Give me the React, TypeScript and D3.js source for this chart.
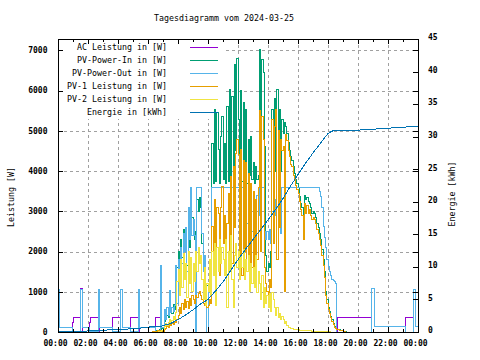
import React from "react";
import * as d3 from "d3";

const W = 480;
const H = 360;
const plot = {left: 58, right: 418, top: 39, bottom: 332};

const title = "Tagesdiagramm vom 2024-03-25";
const xTickLabels = ["00:00", "02:00", "04:00", "06:00", "08:00", "10:00", "12:00",
    "14:00", "16:00", "18:00", "20:00", "22:00", "00:00"];
const yTicks = [0, 1000, 2000, 3000, 4000, 5000, 6000, 7000];
const y2Ticks = [0, 5, 10, 15, 20, 25, 30, 35, 40, 45];

const seriesNames = ["AC Leistung in [W]", "PV-Power-In in [W]", "PV-Power-Out in [W]",
    "PV-1 Leistung in [W]", "PV-2 Leistung in [W]", "Energie in [kWh]"];
const seriesColors = ["#9400d3", "#009e73", "#56b4e9", "#e69f00", "#f0e442", "#0072b2"];

// night / twilight readings as [hour, value]
const acAm = [[0, 0], [0.98, 240], [1.02, 365], [1.53, 1090], [1.6, 0], [2.13, 240], [2.17, 365],
    [2.69, 700], [2.76, 0], [3.62, 240], [3.66, 365], [4.18, 0], [4.8, 240], [4.84, 365],
    [5.35, 700], [5.42, 0], [6.47, 240], [6.51, 365], [6.91, 0]];
const acPm = [[18.55, 0], [18.6, 330], [18.64, 365], [20.93, 0], [23.15, 365], [23.69, 0], [24, 0]];

const pvOutAm = [[0, 1060], [0.1, 117], [0.98, 10], [1.53, 1060], [1.62, 117], [2.13, 10],
    [2.69, 1060], [2.78, 117], [3.62, 10], [4.18, 1060], [4.27, 117], [4.8, 10], [5.35, 1060],
    [5.44, 117], [6.47, 10], [6.82, 1650], [6.93, 117]];
const pvOutPm = [[18.55, 0], [20.93, 1087], [21.07, 140], [23.15, 0], [23.69, 1060], [23.8, 140], [24, 140]];

const pvInAm = [[6.2, 0], [6.5, 30], [6.75, 60], [6.9, 90]];
const pvInPm = [[18.58, 70], [18.8, 40], [19.0, 20], [19.2, 0]];
const pv1Am = [[6.0, 0], [6.3, 10], [6.6, 25], [6.8, 15]];
const pv1Pm = [[18.58, 60], [18.75, 40], [19.0, 20], [19.15, 0]];
const pv2Am = [[6.5, 0], [6.7, 20], [6.9, 40]];
const pv2Pm = [[18.58, 0]];

// daytime readings, every 5 minutes from 07:00 to 18:30
const pvInDay = [
    100, 250, 320, 420, 350, 500, 600, 450, 680, 560, 720, 1600,
    2000, 1550, 2300, 1850, 2550, 2150, 2400, 1650, 2650, 2100, 3400, 2850,
    2700, 2300, 2500, 3300, 3000, 3350, 3100, 2200, 1500, 1150, 1100, 1150,
    1100, 1150, 1050, 4690, 3700, 5520, 3750, 5450, 4525, 3700, 4860, 5355,
    3800, 4690, 3700, 5604, 3750, 6020, 3800, 5852, 3700, 6640, 4500, 6807,
    5273, 3800, 6000, 3750, 5690, 3800, 5520, 3700, 4775, 3900, 4857, 3800,
    4200, 3700, 4100, 3800, 3900, 7010, 4200, 6770, 6440, 4600, 1900, 1500,
    1700, 1600, 2000, 5520, 3900, 5800, 4000, 6020, 4200, 5520, 4000, 5270,
    4940, 5200, 5100, 4940, 4700, 4500, 4350, 4270, 4100, 3950, 3800, 3700,
    3600, 3360, 3200, 3100, 2620, 3400, 3300, 3350, 3250, 3200, 3100, 2950,
    3000, 2950, 2850, 2700, 2600, 2450, 2300, 2050, 1800, 1500, 1000, 800,
    600, 500, 380, 300, 200, 130, 100];

const pvOutDay = [
    120, 560, 300, 620, 420, 1040, 480, 600, 520, 650, 1640, 700,
    1800, 1400, 2100, 1700, 2450, 2000, 2600, 1500, 3100, 2300, 3590, 2400,
    2800, 2400, 0, 3590, 3590, 3590, 3590, 2450, 1500, 1900, 1000, 0,
    1000, 1400, 1200, 3590, 3590, 3590, 3590, 3590, 3590, 3590, 3590, 3590,
    3590, 3590, 3590, 3590, 3590, 3590, 3590, 3590, 3590, 3590, 3590, 3590,
    3590, 3590, 3590, 3590, 3590, 3590, 3590, 2700, 3300, 2300, 3000, 2500,
    2400, 3200, 2600, 3400, 2900, 3590, 3590, 3590, 3590, 2500, 2300, 2500,
    2300, 2540, 2200, 3000, 2700, 3300, 2900, 3100, 2800, 3400, 2450, 3590,
    3590, 2450, 3590, 3590, 3590, 3590, 3590, 3590, 3590, 3590, 3590, 3590,
    3590, 3590, 3590, 3590, 3590, 3590, 3590, 3590, 3590, 3590, 3590, 3590,
    3590, 3590, 3590, 3590, 3590, 3500, 3360, 3100, 2620, 2350, 2100, 1800,
    1620, 1500, 1400, 1300, 1280, 1250, 1210];

const pv1Day = [
    20, 60, 90, 140, 110, 180, 150, 220, 190, 260, 230, 320,
    400, 600, 450, 700, 550, 800, 620, 750, 580, 820, 650, 900,
    800, 700, 900, 850, 950, 1000, 900, 800, 700, 650, 750, 620,
    650, 800, 700, 2620, 1500, 3280, 1800, 3100, 2950, 1400, 3100, 3610,
    2200, 2900, 1500, 2700, 3450, 1900, 3860, 1700, 4110, 2600, 4440, 4775,
    4400, 1800, 4530, 1400, 4270, 2000, 4200, 1500, 3950, 1300, 3700, 1600,
    3500, 1500, 3300, 1800, 3600, 5500, 2000, 5350, 4775, 1600, 1200, 1000,
    900, 1300, 1100, 5270, 2200, 5100, 5520, 1800, 5000, 2600, 4775, 4500,
    4600, 1000, 4900, 4750, 4500, 4350, 4150, 4100, 3900, 3800, 3650, 3550,
    3450, 3250, 3050, 2900, 2300, 3200, 2950, 3150, 2950, 3050, 2900, 2800,
    2850, 2800, 2700, 2550, 2450, 2300, 2150, 1900, 1650, 1350, 900, 700,
    550, 450, 350, 260, 180, 120, 90];

const pv2Day = [
    60, 130, 200, 160, 240, 300, 220, 280, 380, 300, 480, 1250,
    1550, 900, 1800, 1100, 1950, 1300, 1700, 850, 2000, 1200, 1850, 1000,
    1700, 1250, 2000, 1500, 2100, 1700, 1900, 1300, 800, 1600, 650, 1200,
    1000, 1800, 900, 2000, 1400, 2200, 650, 2100, 1500, 2300, 1700, 2100,
    1800, 1400, 2300, 620, 2000, 1500, 2400, 1300, 620, 1900, 2200, 1600,
    2000, 1300, 1900, 1600, 2040, 1300, 1800, 1500, 1900, 1000, 1700, 1200,
    1600, 1100, 1900, 970, 1500, 1200, 800, 1400, 620, 1100, 700, 900,
    600, 950, 500, 970, 800, 600, 400, 620, 350, 450, 300, 380,
    300, 200, 250, 150, 120, 100, 90, 80, 70, 60, 60, 50,
    50, 45, 40, 40, 35, 35, 30, 30, 30, 25, 25, 20,
    20, 20, 15, 15, 15, 10, 10, 10, 10, 5, 5, 5,
    5, 5, 0, 0, 0, 0, 0];

const energyHours = [0, 1.5, 2.7, 4.2, 5.3, 6.0, 6.9, 7.5, 8.0, 8.5, 9.0, 9.5, 10.0, 10.5, 11.0,
    11.5, 12.0, 12.5, 13.0, 13.5, 14.0, 14.5, 15.0, 15.5, 16.0, 16.5, 17.0, 17.5, 18.0, 18.4,
    20.0, 21.0, 22.0, 23.0, 24.0];
const energyKWh = [0.05, 0.1, 0.25, 0.4, 0.55, 0.75, 0.9, 1.3, 1.9, 2.6, 3.4, 4.3, 5.0, 6.3, 7.7,
    9.4, 11.1, 12.7, 14.2, 15.7, 17.2, 18.8, 20.5, 22.4, 24.2, 25.9, 27.5, 29.0, 30.5, 31.0,
    31.0, 31.15, 31.3, 31.45, 31.6];

const font = "'DejaVu Sans Mono', monospace";

export default function App() {
    const x = d3.scaleLinear().domain([0, 24]).range([plot.left, plot.right]);
    const y = d3.scaleLinear().domain([0, 7280]).range([plot.bottom, plot.top]);
    const y2 = d3.scaleLinear().domain([0, 45]).range([plot.bottom, plot.top]);

    const dayHours = pvInDay.map((_, i) => 7 + i / 12);
    const join = (am, day, pm) => [...am, ...day.map((v, i) => [dayHours[i], v]), ...pm];

    // AC output follows PV-Power-Out during the day
    const powerSeries = [
        join(acAm, pvOutDay, acPm),
        join(pvInAm, pvInDay, pvInPm),
        join(pvOutAm, pvOutDay, pvOutPm),
        join(pv1Am, pv1Day, pv1Pm),
        join(pv2Am, pv2Day, pv2Pm),
    ];

    const stepLine = d3.line().x(d => x(d[0])).y(d => y(d[1])).curve(d3.curveStepAfter);
    const energyLine = d3.line().x((d, i) => x(energyHours[i])).y(d => y2(d));

    const px = v => Math.round(v) + 0.5;
    const hours = d3.range(0, 25);
    const legendY = seriesNames.map((_, i) => 46.7 + i * 13.1);

    return (
        <svg width={W} height={H} style={{position: "absolute", left: 0, top: 0, background: "#fff"}}
             fontFamily={font}>
            <rect width={W} height={H} fill="#fff"/>
            <text x={224} y={17.7} dy="0.35em" textAnchor="middle" fontSize={8.3}>{title}</text>

            <g stroke="#a0a0a0" strokeDasharray="3,3" shapeRendering="crispEdges">
                {hours.filter(h => h % 2 === 0 && h > 0 && h < 24).map(h =>
                    <line key={"gx" + h} x1={px(x(h))} x2={px(x(h))} y1={plot.top} y2={plot.bottom}/>)}
                {yTicks.filter(v => v > 0).map(v =>
                    <line key={"gy" + v} x1={plot.left} x2={plot.right} y1={px(y(v))} y2={px(y(v))}/>)}
            </g>
            <rect x={plot.left + 1} y={plot.top + 1} width={165} height={79} fill="#fff"/>

            <g fill="none" strokeWidth={1} shapeRendering="crispEdges">
                {powerSeries.map((s, i) =>
                    <path key={i} d={stepLine(s)} stroke={seriesColors[i]}/>)}
                <path d={energyLine(energyKWh)} stroke={seriesColors[5]}/>
            </g>

            <g fontSize={8.3}>
                {seriesNames.map((n, i) => (
                    <g key={n}>
                        <text x={167} y={legendY[i]} dy="0.35em" textAnchor="end">{n}</text>
                        <line x1={190} x2={218} y1={px(legendY[i])} y2={px(legendY[i])}
                              stroke={seriesColors[i]} shapeRendering="crispEdges"/>
                    </g>
                ))}
            </g>

            <g stroke="#000" shapeRendering="crispEdges" fill="none">
                <rect x={plot.left + 0.5} y={plot.top + 0.5} width={plot.right - plot.left}
                      height={plot.bottom - plot.top}/>
                {hours.map(h => {
                    const len = h % 2 === 0 ? 5 : 3;
                    const xx = px(x(h));
                    return <g key={"tx" + h}>
                        <line x1={xx} x2={xx} y1={plot.bottom} y2={plot.bottom - len}/>
                        <line x1={xx} x2={xx} y1={plot.top} y2={plot.top + len}/>
                    </g>;
                })}
                {yTicks.map(v => <g key={"ty" + v}>
                    <line x1={plot.left} x2={plot.left + 5} y1={px(y(v))} y2={px(y(v))}/>
                    <line x1={plot.right} x2={plot.right - 5} y1={px(y(v))} y2={px(y(v))}/>
                </g>)}
                {y2Ticks.map(v =>
                    <line key={"ty2" + v} x1={plot.right} x2={plot.right - 5} y1={px(y2(v))} y2={px(y2(v))}/>)}
            </g>

            <g fontSize={8} fontWeight="bold">
                {xTickLabels.map((l, i) =>
                    <text key={"lx" + i} x={x(i * 2) - 2.5} y={343.3} dy="0.35em" textAnchor="middle">{l}</text>)}
                {yTicks.map(v =>
                    <text key={"ly" + v} x={47.5} y={y(v)} dy="0.35em" textAnchor="end">{v}</text>)}
                {y2Ticks.map(v =>
                    <text key={"ly2" + v} x={428} y={y2(v) - 1.5} dy="0.35em">{v}</text>)}
            </g>

            <text transform="translate(11,197) rotate(-90)" dy="0.35em" textAnchor="middle" fontSize={8.3}>
                Leistung [W]
            </text>
            <text transform="translate(452,194) rotate(-90)" dy="0.35em" textAnchor="middle" fontSize={8.3}>
                Energie [kWh]
            </text>
        </svg>
    );
}
